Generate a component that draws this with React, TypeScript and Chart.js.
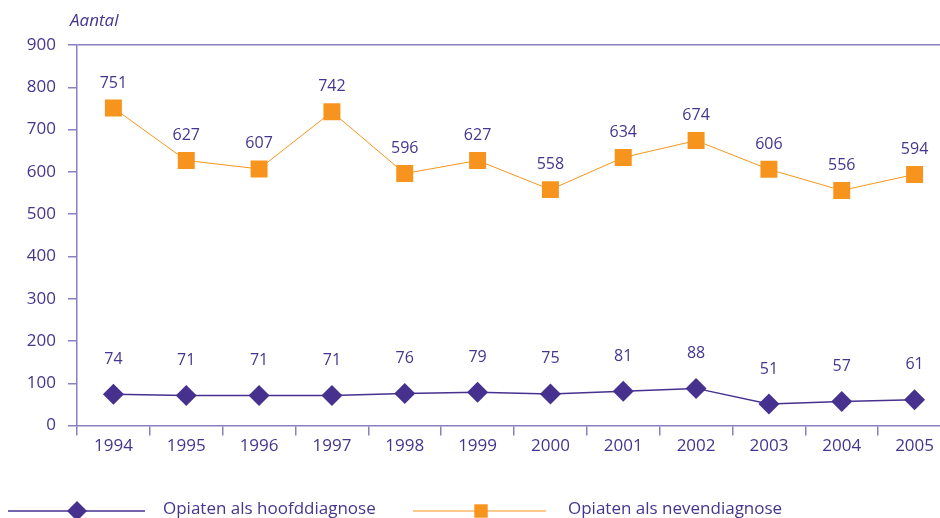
import React, { useEffect, useRef } from "react";
import { Chart, registerables } from "chart.js";

Chart.register(...registerables);

const years = ["1994", "1995", "1996", "1997", "1998", "1999", "2000", "2001", "2002", "2003", "2004", "2005"];
const hoofd = [74, 71, 71, 71, 76, 79, 75, 81, 88, 51, 57, 61];
const neven = [751, 627, 607, 742, 596, 627, 558, 634, 674, 606, 556, 594];
const yTicks = [0, 100, 200, 300, 400, 500, 600, 700, 800, 900];
const seriesNames = ["Opiaten als hoofddiagnose", "Opiaten als nevendiagnose"];

const TEXT = "#46358f";
const AXIS = "#8a7fc0";
const PURPLE = "#46318f";
const ORANGE = "#f7941d";
const FONT = "'Open Sans', sans-serif";

export default function App() {
  const ref = useRef<HTMLCanvasElement>(null);
  useEffect(() => {
    document.body.style.margin = "0";
    const canvas = ref.current!;
    const labelOffsets = [35, 25];
    const extras = {
      id: "extras",
      afterDatasetsDraw(chart: any) {
        const ctx = chart.ctx;
        ctx.save();
        ctx.fillStyle = TEXT;
        ctx.textAlign = "center";
        ctx.textBaseline = "middle";
        ctx.font = `16px ${FONT}`;
        chart.data.datasets.forEach((ds: any, i: number) => {
          const meta = chart.getDatasetMeta(i);
          meta.data.forEach((pt: any, j: number) => {
            ctx.fillText(String(ds.data[j]), pt.x, pt.y - labelOffsets[i]);
          });
        });
        // axis title
        ctx.font = `italic 17px ${FONT}`;
        ctx.textAlign = "left";
        ctx.fillText("Aantal", 70, 21);
        // legend
        const items = [
          { x0: 8, x1: 145, mx: 77, text: 163, color: PURPLE, style: "rectRot", r: 10, w: 1.5 },
          { x0: 413, x1: 546, mx: 481, text: 568, color: ORANGE, style: "rect", r: 9.5, w: 1 },
        ];
        const ly = 511;
        items.forEach((it, k) => {
          ctx.strokeStyle = it.color;
          ctx.lineWidth = it.w;
          ctx.beginPath();
          ctx.moveTo(it.x0, ly);
          ctx.lineTo(it.x1, ly);
          ctx.stroke();
          ctx.fillStyle = it.color;
          ctx.beginPath();
          if (it.style === "rectRot") {
            ctx.moveTo(it.mx, ly - it.r);
            ctx.lineTo(it.mx + it.r, ly);
            ctx.lineTo(it.mx, ly + it.r);
            ctx.lineTo(it.mx - it.r, ly);
            ctx.closePath();
          } else {
            const s = it.r * Math.SQRT1_2;
            ctx.rect(it.mx - s, ly - s, 2 * s, 2 * s);
          }
          ctx.fill();
          ctx.fillStyle = TEXT;
          ctx.font = `17px ${FONT}`;
          ctx.textAlign = "left";
          ctx.fillText(seriesNames[k], it.text, ly - 2);
        });
        ctx.restore();
      },
    };

    const chart = new Chart(canvas, {
      type: "line",
      data: {
        labels: years,
        datasets: [
          {
            label: seriesNames[0],
            data: hoofd,
            borderColor: PURPLE,
            backgroundColor: PURPLE,
            borderWidth: 1.5,
            pointStyle: "rectRot",
            pointRadius: 10.5,
            pointHoverRadius: 10.5,
            pointBorderWidth: 0,
            tension: 0,
          },
          {
            label: seriesNames[1],
            data: neven,
            borderColor: ORANGE,
            backgroundColor: ORANGE,
            borderWidth: 1,
            pointStyle: "rect",
            pointRadius: 12,
            pointHoverRadius: 12,
            pointBorderWidth: 0,
            tension: 0,
          },
        ],
      },
      options: {
        responsive: false,
        animation: false,
        devicePixelRatio: 1,
        layout: { padding: { top: 45, bottom: 62, left: 0, right: 0 } },
        plugins: { legend: { display: false }, tooltip: { enabled: false } },
        scales: {
          x: {
            type: "category",
            offset: true,
            grid: {
              offset: true,
              color: "transparent",
              tickColor: AXIS,
              tickLength: 10,
              lineWidth: 1.5,
            },
            border: { color: AXIS, width: 1.5 },
            ticks: { color: TEXT, font: { family: FONT, size: 17 }, padding: 0, autoSkip: false, maxRotation: 0 },
          },
          y: {
            min: 0,
            max: 900,
            afterBuildTicks: (s: any) => {
              s.ticks = yTicks.map((v) => ({ value: v }));
            },
            afterFit: (s: any) => {
              s.width = 77;
            },
            grid: {
              color: (c: any) => (c.tick && c.tick.value === 900 ? AXIS : "transparent"),
              tickColor: AXIS,
              tickLength: 9,
              lineWidth: 1.5,
            },
            border: { color: AXIS, width: 1.5 },
            ticks: { color: TEXT, font: { family: FONT, size: 17 }, padding: 12 },
          },
        },
      },
      plugins: [extras],
    });
    return () => chart.destroy();
  }, []);
  return (
    <div style={{ width: 940, height: 518, overflow: "hidden", position: "relative" }}>
      <canvas ref={ref} width={963} height={518} style={{ display: "block" }} />
    </div>
  );
}
